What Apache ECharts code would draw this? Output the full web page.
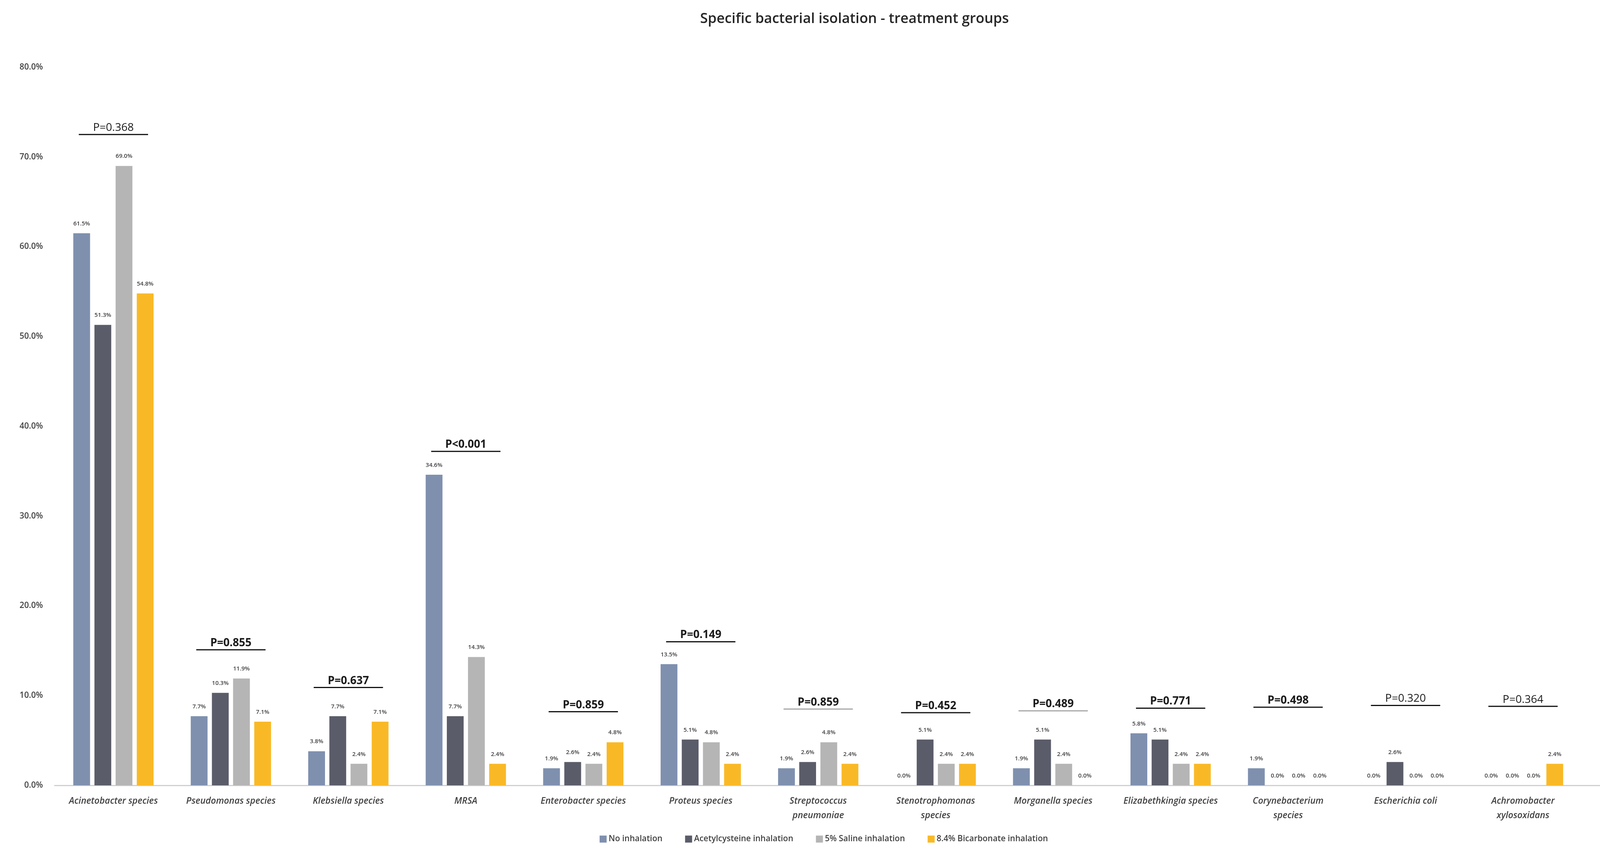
<!DOCTYPE html>
<html>
<head>
<meta charset="utf-8">
<script src="https://cdn.jsdelivr.net/npm/echarts@6/dist/echarts.min.js"></script>
<style>
html,body{margin:0;padding:0;background:#ffffff;}
#chart{width:4375px;height:2178px;}
</style>
</head>
<body>
<div id="chart"></div>
<script>
// ---- data ----
const categories = [
  'Acinetobacter species', 'Pseudomonas species', 'Klebsiella species', 'MRSA',
  'Enterobacter species', 'Proteus species', 'Streptococcus\npneumoniae',
  'Stenotrophomonas\nspecies', 'Morganella species', 'Elizabethkingia species',
  'Corynebacterium\nspecies', 'Escherichia coli', 'Achromobacter\nxylosoxidans', 'Serratia species'
];
const seriesNames = ['No inhalation', 'Acetylcysteine inhalation', '5% Saline inhalation', '8.4% Bicarbonate inhalation'];
const noInhalation   = [61.5, 7.7, 3.8, 34.6, 1.9, 13.5, 1.9, 0.0, 1.9, 5.8, 1.9, 0.0, 0.0, 0.0];
const acetylcysteine = [51.3, 10.3, 7.7, 7.7, 2.6, 5.1, 2.6, 5.1, 5.1, 5.1, 0.0, 2.6, 0.0, 2.6];
const saline5        = [69.0, 11.9, 2.4, 14.3, 2.4, 4.8, 4.8, 2.4, 2.4, 2.4, 0.0, 0.0, 0.0, 0.0];
const bicarbonate84  = [54.8, 7.1, 7.1, 2.4, 4.8, 2.4, 2.4, 2.4, 0.0, 2.4, 0.0, 0.0, 2.4, 4.8];
const pValues  = ['P=0.368', 'P=0.855', 'P=0.637', 'P<0.001', 'P=0.859', 'P=0.149', 'P=0.859',
                  'P=0.452', 'P=0.489', 'P=0.771', 'P=0.498', 'P=0.320', 'P=0.364', 'P=0.086'];
const pBarLevel = [72.5, 15.1, 10.9, 37.2, 8.2, 16.0, 8.5, 8.1, 8.3, 8.6, 8.7, 8.9, 8.8, 9.1];
const yTicks = [0, 10, 20, 30, 40, 50, 60, 70, 80];

// ---- styles ----
const colors = ['#7F90AF', '#5A5C69', '#B5B5B5', '#F9B927'];
const FONT = '"Open Sans", "Noto Sans", sans-serif';
const grayLine = new Set([6, 8]);
const regularWeight = new Set([0, 11, 12, 13]);

const values = [noInhalation, acetylcysteine, saline5, bicarbonate84];
const barSeries = seriesNames.map((name, i) => ({
  name: name,
  type: 'bar',
  data: values[i],
  barWidth: 43,
  barGap: '26%',
  itemStyle: { color: colors[i] },
  label: {
    show: true,
    position: 'top',
    distance: 17,
    formatter: p => p.value.toFixed(1) + '%',
    fontFamily: FONT,
    fontSize: 15,
    fontWeight: 600,
    color: '#404040'
  }
}));

const pData = pValues.map((t, i) => [i, pBarLevel[i], t]);

const pSeries = {
  type: 'custom',
  name: 'pvalues',
  data: pData,
  z: 10,
  silent: true,
  encode: { x: 0, y: 1 },
  renderItem: function (params, api) {
    const idx = params.dataIndex;
    const pt = api.coord([api.value(0), api.value(1)]);
    const cw = api.size([1, 0])[0];
    const half = cw * 0.295;
    return {
      type: 'group',
      children: [
        {
          type: 'line',
          shape: { x1: pt[0] - half, y1: pt[1], x2: pt[0] + half, y2: pt[1] },
          style: { stroke: grayLine.has(idx) ? '#A6A6A6' : '#111111', lineWidth: 3 }
        },
        {
          type: 'text',
          x: pt[0],
          y: pt[1] - 3,
          style: {
            text: pData[idx][2],
            align: 'center',
            verticalAlign: 'bottom',
            textAlign: 'center',
            textVerticalAlign: 'bottom',
            fontFamily: FONT,
            fontSize: 28,
            fontWeight: regularWeight.has(idx) ? 400 : 700,
            fill: '#1a1a1a'
          }
        }
      ]
    };
  }
};

const chart = echarts.init(document.getElementById('chart'), null, { renderer: 'canvas' });
chart.setOption({
  backgroundColor: '#ffffff',
  animation: false,
  title: {
    text: 'Specific bacterial isolation - treatment groups',
    left: 'center',
    top: 26,
    textStyle: { fontFamily: FONT, fontSize: 36, fontWeight: 600, color: '#262626' }
  },
  legend: {
    data: seriesNames,
    left: 1530,
    top: 2132,
    itemWidth: 18,
    itemHeight: 18,
    itemGap: 58,
    icon: 'rect',
    textStyle: { fontFamily: FONT, fontSize: 21, fontWeight: 600, color: '#404040', padding: [0, 0, 0, 0] }
  },
  grid: { left: 140, right: 25, top: 172, bottom: 168, containLabel: false },
  xAxis: {
    type: 'category',
    data: categories,
    axisLine: { show: true, lineStyle: { color: '#D0D0D0', width: 3 } },
    axisTick: { show: false },
    axisLabel: {
      interval: 0,
      margin: 22,
      fontFamily: FONT,
      fontStyle: 'italic',
      fontWeight: 600,
      fontSize: 23,
      lineHeight: 37,
      color: '#404040'
    }
  },
  yAxis: {
    type: 'value',
    min: yTicks[0],
    max: yTicks[yTicks.length - 1],
    interval: yTicks[1] - yTicks[0],
    splitLine: { show: false },
    axisLine: { show: false },
    axisTick: { show: false },
    axisLabel: {
      margin: 30,
      formatter: v => v.toFixed(1) + '%',
      fontFamily: FONT,
      fontSize: 21,
      fontWeight: 600,
      color: '#404040'
    }
  },
  series: barSeries.concat([pSeries])
});
</script>
</body>
</html>
